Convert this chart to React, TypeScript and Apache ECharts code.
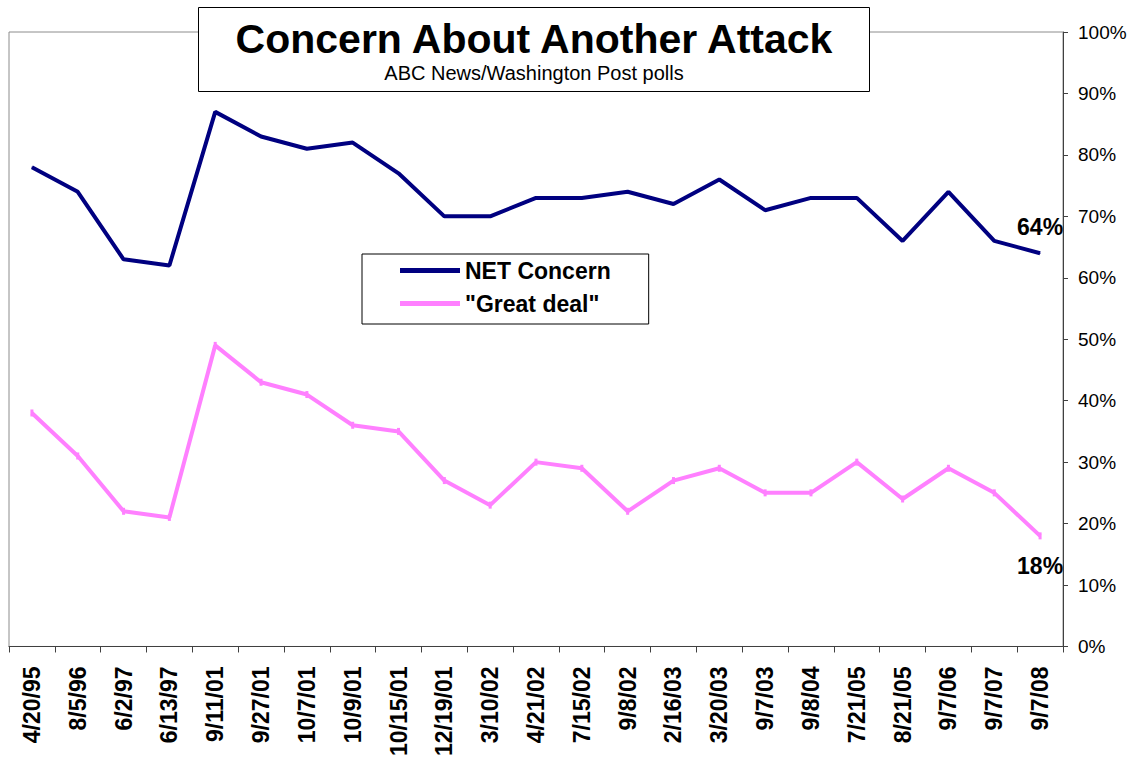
import React, { useEffect, useRef } from "react";
import * as echarts from "echarts";

const categories = ["4/20/95","8/5/96","6/2/97","6/13/97","9/11/01","9/27/01","10/7/01","10/9/01","10/15/01","12/19/01","3/10/02","4/21/02","7/15/02","9/8/02","2/16/03","3/20/03","9/7/03","9/8/04","7/21/05","8/21/05","9/7/06","9/7/07","9/7/08"];
const netConcern = [78,74,63,62,87,83,81,82,77,70,70,73,73,74,72,76,71,73,73,66,74,66,64];
const greatDeal = [38,31,22,21,49,43,41,36,35,27,23,30,29,22,27,29,25,25,30,24,29,25,18];

const FONT = "'Liberation Sans', Arial, sans-serif";

export default function App() {
  const ref = useRef<HTMLDivElement>(null);
  useEffect(() => {
    if (!ref.current) return;
    const chart = echarts.init(ref.current, undefined, { renderer: "svg" });
    const last = categories.length - 1;
    const endLabel = (pos: string, v: number, dist: number) => ({
      show: true, position: pos, distance: dist, formatter: v + "%",
      fontFamily: FONT, fontSize: 23, fontWeight: "bold", color: "#000",
    });
    chart.setOption({
      animation: false,
      textStyle: { fontFamily: FONT },
      grid: { left: 9, right: 71, top: 32, bottom: 111, show: true, borderColor: "#8c8c8c", borderWidth: 1, backgroundColor: "#fff" },
      graphic: [
        { type: "rect", shape: { x: 198.5, y: 7.5, width: 671, height: 84 }, style: { fill: "#fff", stroke: "#000", lineWidth: 1 }, z: 10 },
        { type: "text", x: 534, y: 39, style: { text: "Concern About Another Attack", fontFamily: FONT, fontSize: 41, fontWeight: "bold", fill: "#000", align: "center", verticalAlign: "middle" }, z: 11 },
        { type: "text", x: 534, y: 73, style: { text: "ABC News/Washington Post polls", fontFamily: FONT, fontSize: 20, fill: "#000", align: "center", verticalAlign: "middle" }, z: 11 },
      ],
      legend: {
        left: 362, top: 254, orient: "vertical",
        backgroundColor: "#fff", borderColor: "#000", borderWidth: 1,
        padding: [5, 38, 9, 38], itemGap: 10,
        itemWidth: 60, itemHeight: 5, icon: "rect",
        textStyle: { fontFamily: FONT, fontSize: 23, fontWeight: "bold", color: "#000", lineHeight: 23 },
        data: ["NET Concern", "\"Great deal\""],
      },
      xAxis: {
        type: "category", data: categories, boundaryGap: true,
        axisLine: { show: true, lineStyle: { color: "#404040", width: 1 } },
        axisTick: { show: true, interval: 0, length: 6, lineStyle: { color: "#404040" } },
        axisLabel: { interval: 0, rotate: 90, fontFamily: FONT, fontSize: 23, fontWeight: "bold", color: "#000", margin: 20 },
        splitLine: { show: false },
      },
      yAxis: {
        type: "value", position: "right", min: 0, max: 100, interval: 10,
        axisLine: { show: true, lineStyle: { color: "#404040", width: 1 } },
        axisTick: { show: true, length: 5, lineStyle: { color: "#404040" } },
        axisLabel: { formatter: "{value}%", fontFamily: FONT, fontSize: 19, color: "#000", margin: 15 },
        splitLine: { show: false },
      },
      series: [
        {
          name: "NET Concern", type: "line",
          data: netConcern.map((v, i) => i === last ? { value: v, label: endLabel("top", v, 14) } : v),
          symbol: "circle", symbolSize: 1, showSymbol: true,
          lineStyle: { color: "#000080", width: 4 }, itemStyle: { color: "#000080" },
        },
        {
          name: "\"Great deal\"", type: "line",
          data: greatDeal.map((v, i) => i === last ? { value: v, label: endLabel("bottom", v, 15) } : v),
          symbol: "rect", symbolSize: [3, 7],
          lineStyle: { color: "#FF80FF", width: 4 }, itemStyle: { color: "#FF80FF" },
        },
      ],
    });
    return () => chart.dispose();
  }, []);
  return <div ref={ref} style={{ width: 1134, height: 759, position: "absolute", left: 0, top: 0 }} />;
}
